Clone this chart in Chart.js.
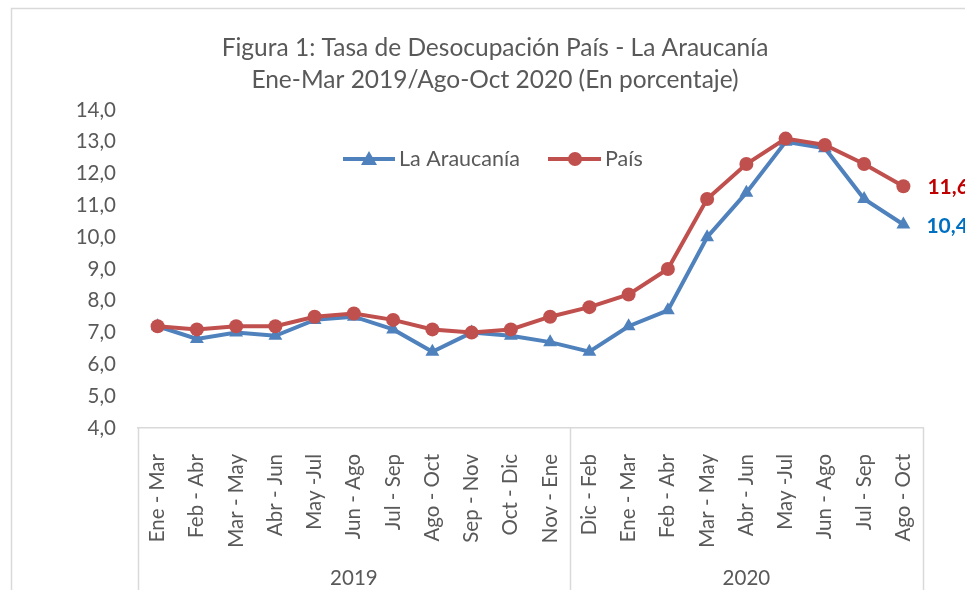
<!DOCTYPE html>
<html>
<head>
<meta charset="utf-8">
<script src="https://cdn.jsdelivr.net/npm/chart.js@4/dist/chart.umd.min.js"></script>
<style>
    html, body { margin: 0; padding: 0; background: #fff; }
</style>
</head>
<body>
<canvas id="chart" width="965" height="590"></canvas>
<script>
// Periodos móviles trimestrales
const periods = [
    'Ene - Mar', 'Feb - Abr', 'Mar - May', 'Abr - Jun', 'May -Jul', 'Jun - Ago',
    'Jul - Sep', 'Ago - Oct', 'Sep - Nov', 'Oct - Dic', 'Nov - Ene',
    'Dic - Feb', 'Ene - Mar', 'Feb - Abr', 'Mar - May', 'Abr - Jun', 'May -Jul',
    'Jun - Ago', 'Jul - Sep', 'Ago - Oct'
];
const years = ['2019', '2020'];
const yearCounts = [11, 9];

// Tasa de desocupación (%)
const araucania = [7.2, 6.8, 7.0, 6.9, 7.4, 7.5, 7.1, 6.4, 7.0, 6.9, 6.7, 6.4, 7.2, 7.7, 10.0, 11.4, 13.0, 12.8, 11.2, 10.4];
const pais = [7.2, 7.1, 7.2, 7.2, 7.5, 7.6, 7.4, 7.1, 7.0, 7.1, 7.5, 7.8, 8.2, 9.0, 11.2, 12.3, 13.1, 12.9, 12.3, 11.6];

const titleLines = ['Figura 1: Tasa de Desocupación País - La Araucanía', 'Ene-Mar 2019/Ago-Oct 2020 (En porcentaje)'];

const yMin = 4;
const yMax = 14;

const BLUE = '#4F81BD';
const RED = '#C0504D';
const GRAY = '#595959';
const LINE = '#D9D9D9';
const FONT = 'Lato, "Open Sans", sans-serif';

const fmt = v => v.toFixed(1).replace('.', ',');

const extras = {
    id: 'extras',
    afterDraw(chart) {
        const ctx = chart.ctx;
        const area = chart.chartArea;
        const x = chart.scales.x;
        const h = chart.height;
        ctx.save();

        // marco exterior
        ctx.strokeStyle = LINE;
        ctx.lineWidth = 1.5;
        ctx.beginPath();
        ctx.moveTo(11.5, h);
        ctx.lineTo(11.5, 8.5);
        ctx.lineTo(chart.width, 8.5);
        ctx.stroke();

        // título (centrado sobre el marco completo, no sobre el área)
        ctx.fillStyle = GRAY;
        ctx.font = '24.5px ' + FONT;
        ctx.textAlign = 'center';
        ctx.textBaseline = 'middle';
        ctx.fillText(titleLines[0], 495, 48);
        ctx.fillText(titleLines[1], 495, 80);

        // cajas del eje de categorías
        let idx = 0;
        const edges = [area.left];
        yearCounts.forEach(n => {
            idx += n;
            const xr = idx < periods.length
                ? (x.getPixelForValue(idx - 1) + x.getPixelForValue(idx)) / 2
                : area.right;
            edges.push(xr);
        });
        ctx.beginPath();
        edges.forEach(px => {
            ctx.moveTo(Math.round(px) + 0.5, area.bottom);
            ctx.lineTo(Math.round(px) + 0.5, h);
        });
        ctx.stroke();

        ctx.font = '20.5px ' + FONT;
        years.forEach((yr, i) => {
            ctx.fillText(yr, (edges[i] + edges[i + 1]) / 2, 578);
        });

        // leyenda
        const ly = 159;
        ctx.lineWidth = 4;
        ctx.strokeStyle = BLUE;
        ctx.beginPath(); ctx.moveTo(343, ly); ctx.lineTo(395, ly); ctx.stroke();
        ctx.fillStyle = BLUE;
        ctx.beginPath();
        ctx.moveTo(369, ly - 8); ctx.lineTo(377, ly + 6); ctx.lineTo(361, ly + 6);
        ctx.closePath(); ctx.fill();
        ctx.strokeStyle = RED;
        ctx.beginPath(); ctx.moveTo(548, ly); ctx.lineTo(601, ly); ctx.stroke();
        ctx.fillStyle = RED;
        ctx.beginPath(); ctx.arc(575, ly, 7, 0, Math.PI * 2); ctx.fill();
        ctx.fillStyle = GRAY;
        ctx.textAlign = 'left';
        ctx.font = '21.5px ' + FONT;
        ctx.fillText('La Araucanía', 399, ly);
        ctx.fillText('País', 605, ly);

        // etiquetas del último dato
        ctx.font = 'bold 21px ' + FONT;
        const last = periods.length - 1;
        const pR = chart.getDatasetMeta(1).data[last];
        const pB = chart.getDatasetMeta(0).data[last];
        ctx.fillStyle = '#C00000';
        ctx.fillText(fmt(pais[last]), pR.x + 24, pR.y + 1);
        ctx.fillStyle = '#0070C0';
        ctx.fillText(fmt(araucania[last]), pB.x + 23, pB.y + 2);

        ctx.restore();
    }
};

new Chart(document.getElementById('chart'), {
    type: 'line',
    data: {
        labels: periods,
        datasets: [{
            label: 'La Araucanía',
            data: araucania,
            borderColor: BLUE,
            backgroundColor: BLUE,
            borderWidth: 4,
            pointStyle: 'triangle',
            pointRadius: 8,
            pointBorderWidth: 0,
            tension: 0,
            order: 1
        }, {
            label: 'País',
            data: pais,
            borderColor: RED,
            backgroundColor: RED,
            borderWidth: 4,
            pointStyle: 'circle',
            pointRadius: 7,
            pointBorderWidth: 0,
            tension: 0,
            order: 0
        }]
    },
    options: {
        responsive: false,
        animation: false,
        layout: { padding: { top: 110, left: 12, right: 42, bottom: 0 } },
        plugins: {
            legend: { display: false },
            tooltip: { enabled: false },
            title: { display: false }
        },
        scales: {
            x: {
                offset: true,
                grid: { display: false, drawTicks: false },
                border: { display: true, color: LINE, width: 1.5 },
                ticks: {
                    color: GRAY,
                    font: { family: FONT, size: 20.5 },
                    minRotation: 90,
                    maxRotation: 90,
                    autoSkip: false,
                    padding: 26
                },
                afterFit(scale) { scale.height = 162; }
            },
            y: {
                min: yMin,
                max: yMax,
                grid: { display: false, drawTicks: false },
                border: { display: false },
                ticks: {
                    stepSize: 1,
                    color: GRAY,
                    font: { family: FONT, size: 20.5 },
                    padding: 22,
                    callback: v => fmt(v)
                },
                afterFit(scale) { scale.width = 126; }
            }
        }
    },
    plugins: [extras]
});
</script>
</body>
</html>
